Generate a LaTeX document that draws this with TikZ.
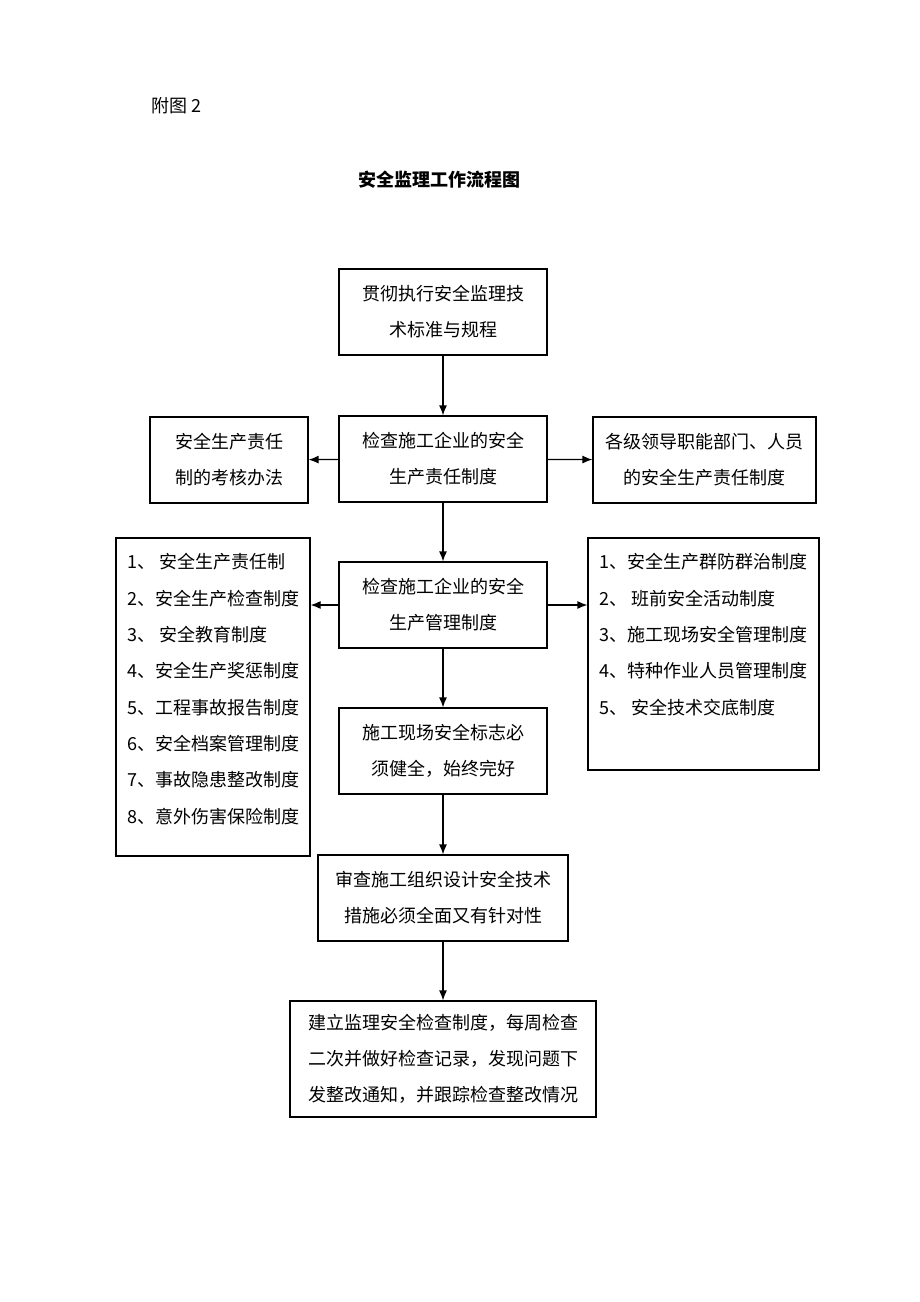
\documentclass[tikz,border=0pt]{standalone}
\usepackage{fontspec}
\setmainfont{Noto Sans CJK SC}
\usetikzlibrary{arrows.meta}

\tikzset{
  box/.style={draw, line width=1.2pt, align=center, inner sep=0pt,
    font=\fontsize{18}{36}\selectfont},
  pil/.style={-{Latex[length=10pt,width=8pt]}, line width=1.2pt},
  lista/.style={align=left, inner sep=0pt, anchor=north west,
    font=\fontsize{18}{36.3}\selectfont}
}

\begin{document}
\begin{tikzpicture}[x=1pt,y=-1pt]
      \useasboundingbox (0,0) rectangle (920,1302);
      % Rubriker
      \node[anchor=west, font=\fontsize{18}{22}\selectfont] (fig) at (148,106) {附图 2};
      \node[font=\fontsize{18}{22}\selectfont\bfseries] (title) at (439,180) {安全监理工作流程图};
      % Huvudkedja
      \node[box, minimum width=208pt, minimum height=86pt] (std) at (443,312) {贯彻执行安全监理技\\术标准与规程};
      \node[box, minimum width=208pt, minimum height=86pt] (resp) at (443,459) {检查施工企业的安全\\生产责任制度};
      \node[box, minimum width=208pt, minimum height=86pt] (mgmt) at (443,605) {检查施工企业的安全\\生产管理制度};
      \node[box, minimum width=208pt, minimum height=86pt] (sign) at (443,751) {施工现场安全标志必\\须健全，始终完好};
      \node[box, minimum width=250pt, minimum height=86pt] (plan) at (443,898) {审查施工组织设计安全技术\\措施必须全面又有针对性};
      \node[box, minimum width=306pt, minimum height=116pt] (check) at (443,1059) {建立监理安全检查制度，每周检查\\二次并做好检查记录，发现问题下\\发整改通知，并跟踪检查整改情况};
      % Sidorutor
      \node[box, minimum width=158pt, minimum height=86pt] (assess) at (229,460) {安全生产责任\\制的考核办法};
      \node[box, minimum width=223pt, minimum height=86pt] (levels) at (704.5,460) {各级领导职能部门、人员\\的安全生产责任制度};
      \node[box, minimum width=194pt, minimum height=318pt] (listL) at (213,697) {};
      \node[box, minimum width=231pt, minimum height=232pt] (listR) at (703.5,654) {};
      \node[lista] (listLtext) at ([xshift=12pt,yshift=-16pt]listL.north west)
        {1、 安全生产责任制\\2、安全生产检查制度\\3、 安全教育制度\\4、安全生产奖惩制度\\5、工程事故报告制度\\6、安全档案管理制度\\7、事故隐患整改制度\\8、意外伤害保险制度};
      \node[lista] (listRtext) at ([xshift=12pt,yshift=-16pt]listR.north west)
        {1、安全生产群防群治制度\\2、 班前安全活动制度\\3、施工现场安全管理制度\\4、特种作业人员管理制度\\5、 安全技术交底制度};
      % Pilar
      \draw[pil] (std) -- (resp);
      \draw[pil] (resp) -- (mgmt);
      \draw[pil] (mgmt) -- (sign);
      \draw[pil] (sign) -- (plan);
      \draw[pil] (plan) -- (check);
      \draw[pil] (resp) -- (assess);
      \draw[pil] (resp) -- (levels);
      \draw[pil] (mgmt.west) -- (mgmt.west -| listL.east);
      \draw[pil] (mgmt.east) -- (mgmt.east -| listR.west);
\end{tikzpicture}
\end{document}
